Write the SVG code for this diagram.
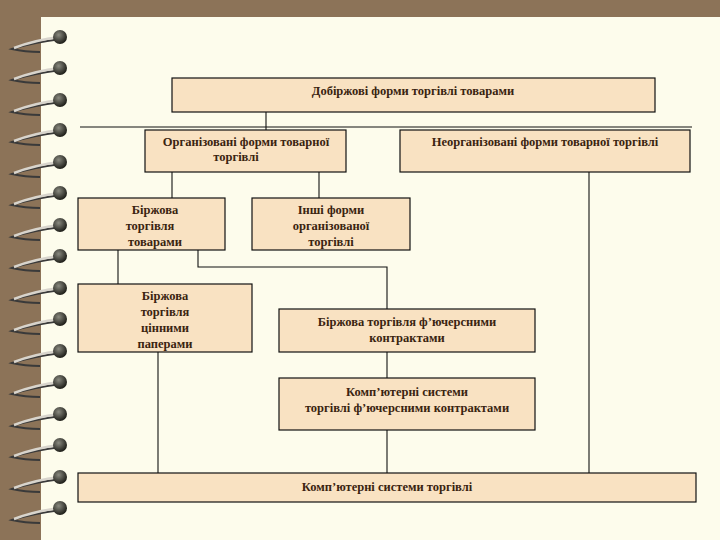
<svg xmlns="http://www.w3.org/2000/svg" width="720" height="540" viewBox="0 0 720 540">
<defs>
<style>
.b{fill:#F9E2C2;stroke:#111;stroke-width:1.2}
.t{font-family:"Liberation Serif",serif;font-weight:bold;font-size:12.5px;fill:#3a2410;text-anchor:middle}
.c{stroke:#111;stroke-width:1.1;fill:none}
.w{stroke:#d8d4cc;stroke-width:2.5;fill:none}
.w2{stroke:#3a3a3a;stroke-width:2;fill:none}
</style>
<radialGradient id="g" cx="0.4" cy="0.35" r="0.7"><stop offset="0" stop-color="#8a8a80"/><stop offset="1" stop-color="#151510"/></radialGradient>
<g id="ring"><path class="w2" d="M61,2 Q30,6 12,12 Q25,15 40,15"/><path class="w" d="M60,0 Q35,3 14,11"/><circle cx="60" cy="0" r="7" fill="url(#g)"/></g>
</defs>
<rect width="720" height="540" fill="#8C7358"/>
<rect x="41" y="17" width="679" height="523" fill="#FDFCEC"/>
<g id="spiral">
<use href="#ring" y="37"/><use href="#ring" y="68"/><use href="#ring" y="100"/><use href="#ring" y="130"/><use href="#ring" y="162"/><use href="#ring" y="193"/><use href="#ring" y="225"/><use href="#ring" y="256"/><use href="#ring" y="288"/><use href="#ring" y="319"/><use href="#ring" y="351"/><use href="#ring" y="382"/><use href="#ring" y="414"/><use href="#ring" y="445"/><use href="#ring" y="477"/><use href="#ring" y="508"/>
</g>
<g id="connectors">
<line class="c" x1="80" y1="127" x2="692" y2="127"/>
<line class="c" x1="266" y1="112" x2="266" y2="130"/>
<line class="c" x1="172" y1="172" x2="172" y2="198"/>
<line class="c" x1="319" y1="172" x2="319" y2="198"/>
<line class="c" x1="118" y1="250" x2="118" y2="284"/>
<polyline class="c" points="198,250 198,267 387,267 387,309"/>
<line class="c" x1="387" y1="352" x2="387" y2="378"/>
<line class="c" x1="387" y1="430" x2="387" y2="473"/>
<line class="c" x1="158" y1="352" x2="158" y2="473"/>
<line class="c" x1="589" y1="172" x2="589" y2="473"/>
</g>
<g id="n1"><rect class="b" x="172" y="78" width="483" height="34"/><text class="t" x="413" y="95">Добіржові форми торгівлі товарами</text></g>
<g id="n2"><rect class="b" x="145" y="130" width="201" height="42"/><text class="t" x="246" y="146">Організовані форми товарної</text><text class="t" x="236" y="161">торгівлі</text></g>
<g id="n3"><rect class="b" x="400" y="130" width="290" height="42"/><text class="t" x="545" y="146">Неорганізовані форми товарної торгівлі</text></g>
<g id="n4"><rect class="b" x="78" y="198" width="147" height="52"/><text class="t" x="155" y="214">Біржова</text><text class="t" x="150" y="230">торгівля</text><text class="t" x="155" y="246">товарами</text></g>
<g id="n5"><rect class="b" x="252" y="198" width="158" height="52"/><text class="t" x="331" y="214">Інші форми</text><text class="t" x="331" y="230">організованої</text><text class="t" x="331" y="246">торгівлі</text></g>
<g id="n6"><rect class="b" x="78" y="284" width="174" height="68"/><text class="t" x="165" y="300">Біржова</text><text class="t" x="165" y="316">торгівля</text><text class="t" x="165" y="332">цінними</text><text class="t" x="165" y="348">паперами</text></g>
<g id="n7"><rect class="b" x="279" y="309" width="256" height="43"/><text class="t" x="407" y="326">Біржова торгівля ф’ючерсними</text><text class="t" x="407" y="342">контрактами</text></g>
<g id="n8"><rect class="b" x="279" y="378" width="256" height="52"/><text class="t" x="407" y="396">Комп’ютерні системи</text><text class="t" x="407" y="412">торгівлі ф’ючерсними контрактами</text></g>
<g id="n9"><rect class="b" x="78" y="473" width="618" height="29"/><text class="t" x="387" y="491">Комп’ютерні системи торгівлі</text></g>
</svg>
